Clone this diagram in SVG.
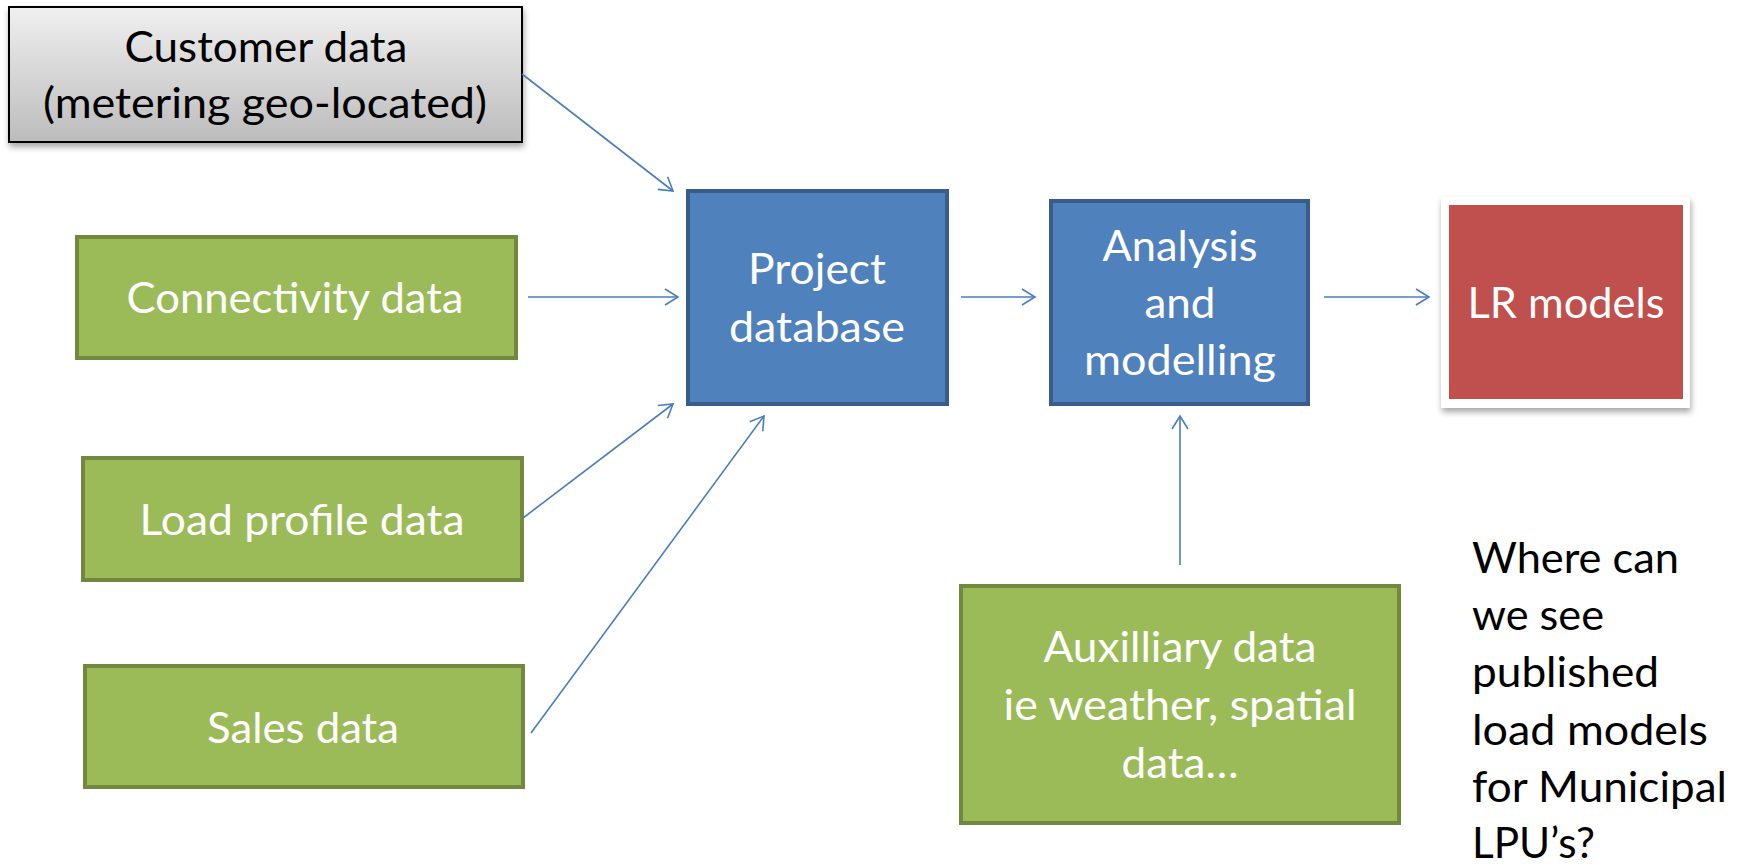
<svg xmlns="http://www.w3.org/2000/svg" width="1744" height="865" viewBox="0 0 1744 865">
<defs>
<linearGradient id="gray" x1="0" y1="0" x2="0" y2="1">
<stop offset="0" stop-color="#f0f0f0"/>
<stop offset="1" stop-color="#bcbcbc"/>
</linearGradient>
<filter id="shadow" x="-10%" y="-10%" width="130%" height="130%">
<feDropShadow dx="1" dy="4" stdDeviation="3" flood-color="#000" flood-opacity="0.35"/>
</filter>
<marker id="arr" viewBox="0 0 14 16" refX="13" refY="8" markerWidth="14" markerHeight="16" markerUnits="userSpaceOnUse" orient="auto" overflow="visible">
<path d="M0,0 L13,8 L0,16" fill="none" stroke="#4a7ebb" stroke-width="1.6"/>
</marker>
</defs>
<style>
text{font-family:Lato,"Liberation Sans",sans-serif;font-size:42px;text-anchor:middle}
.w{fill:#ffffff}
.k{fill:#000000}
.green{fill:#9bbb59;stroke:#71893f;stroke-width:4}
.blue{fill:#4f81bd;stroke:#385d8a;stroke-width:4}
.conn line{stroke:#4a7ebb;stroke-width:1.6;marker-end:url(#arr)}
</style>
<rect width="1744" height="865" fill="#ffffff"/>

<g id="customer">
<rect x="9" y="7" width="513" height="135" fill="url(#gray)" stroke="#000" stroke-width="2" filter="url(#shadow)"/>
<text class="k" x="266" y="62" textLength="283" lengthAdjust="spacingAndGlyphs">Customer data</text>
<text class="k" x="265" y="118" textLength="444" lengthAdjust="spacingAndGlyphs">(metering geo-located)</text>
</g>

<g id="connectivity">
<rect class="green" x="77" y="237" width="439" height="121"/>
<text class="w" x="295" y="313" textLength="337" lengthAdjust="spacingAndGlyphs">Connectivity data</text>
</g>

<g id="loadprofile">
<rect class="green" x="83" y="458" width="439" height="122"/>
<text class="w" x="302" y="535" textLength="325" lengthAdjust="spacingAndGlyphs">Load profile data</text>
</g>

<g id="sales">
<rect class="green" x="85" y="666" width="438" height="121"/>
<text class="w" x="303" y="743" textLength="192" lengthAdjust="spacingAndGlyphs">Sales data</text>
</g>

<g id="projectdb">
<rect class="blue" x="688" y="191" width="259" height="213"/>
<text class="w" x="817" y="284" textLength="138" lengthAdjust="spacingAndGlyphs">Project</text>
<text class="w" x="817" y="342" textLength="176" lengthAdjust="spacingAndGlyphs">database</text>
</g>

<g id="analysis">
<rect class="blue" x="1051" y="201" width="257" height="203"/>
<text class="w" x="1180" y="261" textLength="155" lengthAdjust="spacingAndGlyphs">Analysis</text>
<text class="w" x="1180" y="318" textLength="71" lengthAdjust="spacingAndGlyphs">and</text>
<text class="w" x="1180" y="375" textLength="192" lengthAdjust="spacingAndGlyphs">modelling</text>
</g>

<g id="lrmodels">
<rect x="1441" y="197" width="249" height="211" fill="#ffffff" filter="url(#shadow)"/>
<rect x="1449" y="205" width="234" height="194" fill="#c0504d"/>
<text class="w" x="1566" y="318" textLength="197" lengthAdjust="spacingAndGlyphs">LR models</text>
</g>

<g id="auxiliary">
<rect class="green" x="961" y="586" width="438" height="237"/>
<text class="w" x="1180" y="662" textLength="273" lengthAdjust="spacingAndGlyphs">Auxilliary data</text>
<text class="w" x="1180" y="720" textLength="353" lengthAdjust="spacingAndGlyphs">ie weather, spatial</text>
<text class="w" x="1180" y="778" textLength="117" lengthAdjust="spacingAndGlyphs">data…</text>
</g>

<g id="question" style="text-anchor:start">
<text class="k" x="1472" y="573" style="text-anchor:start" textLength="207" lengthAdjust="spacingAndGlyphs">Where can</text>
<text class="k" x="1472" y="630" style="text-anchor:start" textLength="132" lengthAdjust="spacingAndGlyphs">we see</text>
<text class="k" x="1472" y="687" style="text-anchor:start" textLength="187" lengthAdjust="spacingAndGlyphs">published</text>
<text class="k" x="1472" y="745" style="text-anchor:start" textLength="236" lengthAdjust="spacingAndGlyphs">load models</text>
<text class="k" x="1472" y="802" style="text-anchor:start" textLength="255" lengthAdjust="spacingAndGlyphs">for Municipal</text>
<text class="k" x="1472" y="858" style="text-anchor:start" textLength="123" lengthAdjust="spacingAndGlyphs">LPU’s?</text>
</g>

<g id="connectors" class="conn">
<line x1="522" y1="74" x2="673" y2="191"/>
<line x1="528" y1="297" x2="678" y2="297"/>
<line x1="523" y1="518" x2="673" y2="404"/>
<line x1="531" y1="733" x2="764" y2="416"/>
<line x1="961" y1="297" x2="1035" y2="297"/>
<line x1="1324" y1="297" x2="1429" y2="297"/>
<line x1="1180" y1="565" x2="1180" y2="416"/>
</g>
</svg>
